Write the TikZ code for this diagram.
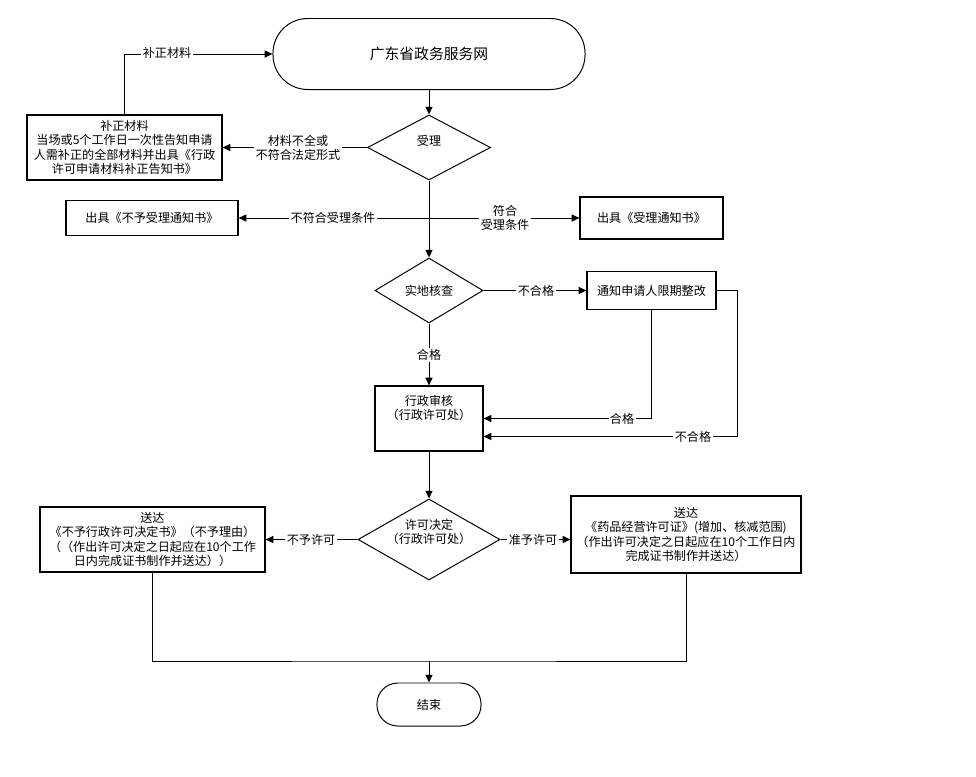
\documentclass[tikz,border=0pt]{standalone}
\usepackage{fontspec}
\setmainfont{Noto Sans CJK SC}
\usetikzlibrary{shapes.geometric,arrows.meta,calc}
\begin{document}
\begin{tikzpicture}[x=0.025cm,y=-0.025cm,
  font=\fontsize{8.6}{10.4}\selectfont,
  line width=0.7pt,
  >={Triangle[length=5.5pt,width=5pt]},
  box/.style={draw, line width=0.8pt, align=center, inner sep=1pt},
  term/.style={draw, line width=0.7pt, align=center, inner sep=1pt},
  dia/.style={draw, diamond, line width=0.7pt, align=center, inner sep=0pt},
  lab/.style={fill=white, inner sep=1pt, align=center},
  txt/.style={align=center, inner sep=0pt}]
\useasboundingbox[fill=white] (0,0) rectangle (976,777);

% nodes
\node[term, minimum width=7.8cm, minimum height=1.775cm, rounded corners=0.87cm] (start) at (429,54) {\fontsize{10.5}{12}\selectfont 广东省政务服务网};
\node[dia, minimum width=3.075cm, minimum height=1.625cm] (d1) at (429,147.5) {};
\node[txt] (t1) at (429,141) {受理};
\node[box, minimum width=4.875cm, minimum height=1.625cm] (b1) at (124.5,147.5) {补正材料\\当场或5个工作日一次性告知申请\\人需补正的全部材料并出具《行政\\许可申请材料补正告知书》};
\node[box, minimum width=4.3cm, minimum height=0.875cm] (nb) at (152,218) {出具《不予受理通知书》};
\node[box, minimum width=3.575cm, minimum height=1.05cm] (ab) at (651.5,218) {出具《受理通知书》};
\coordinate (c1) at (429,218);
\node[dia, minimum width=2.7cm, minimum height=1.625cm] (d2) at (429,290.5) {};
\node[txt] (t2) at (429,290.5) {实地核查};
\node[box, minimum width=3.225cm, minimum height=0.95cm] (tz) at (651.5,290.5) {通知申请人限期整改};
\node[box, minimum width=2.7cm, minimum height=1.625cm] (xz) at (429,418.5) {};
\node[txt] (t3) at (429,408) {行政审核\\（行政许可处）};
\node[dia, minimum width=3.55cm, minimum height=2.025cm] (d3) at (429,539.5) {};
\node[txt] (t4) at (429,532) {许可决定\\（行政许可处）};
\node[box, minimum width=5.625cm, minimum height=1.625cm] (lb) at (152.5,539.5) {送达\\《不予行政许可决定书》（不予理由）\\（（作出许可决定之日起应在10个工作\\日内完成证书制作并送达））};
\node[box, minimum width=5.75cm, minimum height=1.925cm] (rb) at (686,534.5) {送达\\《药品经营许可证》(增加、核减范围)\\（作出许可决定之日起应在10个工作日内\\完成证书制作并送达）};
\node[term, minimum width=2.6cm, minimum height=1.075cm, rounded corners=0.52cm] (end) at (429,704.5) {结束};
\coordinate (m) at (429,661);

% connectors
\draw[->] (start) -- (d1);
\draw[->] (d1.west) -- (b1.east);
\draw[->] (b1.north) |- (start.west);
\draw[->] (d1) -- (d2);
\draw[->] (c1) -- (nb.east);
\draw[->] (c1) -- (ab.west);
\draw[->] (d2.east) -- (tz.west);
\draw[->] (d2) -- (xz);
\draw[->] (tz.south) |- (xz.east);
\draw[->] (tz.east) -- ++(21,0) |- ($(xz.east)+(0,18)$);
\draw[->] (xz) -- (d3);
\draw[->] (d3.west) -- (lb.east);
\draw[->] (d3.east) -- (d3.east -| rb.west);
\draw (lb.south) |- (m) -| (rb.south);
\draw[->] (m) -- (end);

% labels
\node[lab] (l1) at (298,148) {材料不全或\\不符合法定形式};
\node[lab] (l2) at (167,53) {补正材料};
\node[lab] (l3) at (333,218) {不符合受理条件};
\node[lab] (l4) at (505,218) {符合\\受理条件};
\node[lab] (l5) at (536,290.5) {不合格};
\node[lab] (l6) at (429,355) {合格};
\node[lab] (l7) at (622,418.5) {合格};
\node[lab] (l8) at (693,436.5) {不合格};
\node[lab] (l9) at (311,539.5) {不予许可};
\node[lab] (l10) at (533,539.5) {准予许可};
\end{tikzpicture}
\end{document}
